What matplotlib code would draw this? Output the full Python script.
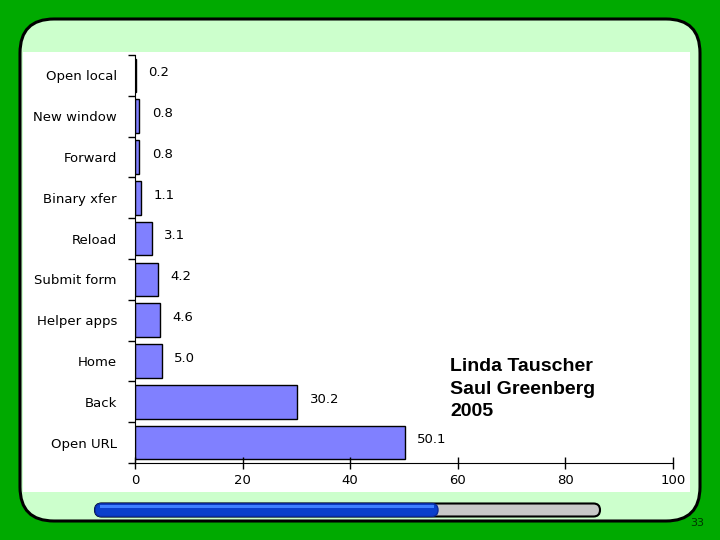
import matplotlib.pyplot as plt
from matplotlib.patches import FancyBboxPatch, Rectangle
import numpy as np

# data, top to bottom as in the slide
categories = ["Open local", "New window", "Forward", "Binary xfer", "Reload",
              "Submit form", "Helper apps", "Home", "Back", "Open URL"]
values = [0.2, 0.8, 0.8, 1.1, 3.1, 4.2, 4.6, 5.0, 30.2, 50.1]
x_ticks = [0, 20, 40, 60, 80, 100]
credit = "Linda Tauscher\nSaul Greenberg\n2005"
page = "33"


def main():
    fig = plt.figure(figsize=(7.2, 5.4), dpi=100)
    fig.patch.set_facecolor("#00AA00")

    # slide decoration in pixel coordinates
    bg = fig.add_axes([0, 0, 1, 1])
    bg.set_xlim(0, 720)
    bg.set_ylim(540, 0)
    bg.axis("off")
    bg.add_patch(FancyBboxPatch((20 + 32, 19 + 32), 680 - 64, 502 - 64,
                                boxstyle="round,pad=32,rounding_size=34",
                                facecolor="#CCFFCC", edgecolor="black", lw=2.2))
    bg.add_patch(Rectangle((23, 52), 667, 440, facecolor="white", edgecolor="none"))

    # progress bar
    bg.add_patch(FancyBboxPatch((95, 503.5), 505, 13,
                                boxstyle="round,pad=0,rounding_size=6.5",
                                facecolor="#C8C8C8", edgecolor="black", lw=1.5))
    bg.add_patch(FancyBboxPatch((95, 503.5), 343, 13,
                                boxstyle="round,pad=0,rounding_size=6.5",
                                facecolor="#0A3FCC", edgecolor="#0A2A99", lw=1))
    bg.add_patch(Rectangle((100, 505), 334, 2.5, facecolor="#3F7FFF", edgecolor="none"))
    bg.text(697, 523, page, fontsize=8, ha="center", va="center", color="#003300",
            family="DejaVu Sans")

    # bar chart
    ax = fig.add_axes([135 / 720, 1 - 463 / 540, 538 / 720, 408 / 540])
    ax.set_facecolor("none")
    y = np.arange(len(categories))
    ax.barh(y, values, height=0.82, color="#8080FF", edgecolor="black", lw=1)
    for yi, v in zip(y, values):
        ax.annotate("{:.1f}".format(v), (v, yi), xytext=(9, 2), textcoords="offset points",
                    ha="left", va="center", fontsize=9.5)

    ax.set_ylim(len(categories) - 0.5, -0.5)
    ax.set_xlim(0, 100)
    ax.set_yticks(y)
    ax.set_yticklabels(categories, fontsize=9.5)
    ax.set_yticks(np.arange(len(categories) + 1) - 0.5, minor=True)
    ax.tick_params(axis="y", which="major", length=0, pad=13)
    ax.tick_params(axis="y", which="minor", length=5, width=1, direction="out")
    ax.set_xticks(x_ticks)
    ax.tick_params(axis="x", which="major", length=8, width=1, direction="inout",
                   labelsize=9.5, pad=4)
    for s in ["top", "right"]:
        ax.spines[s].set_visible(False)

    fig.text(450 / 720, 1 - 389 / 540, credit, fontsize=14, fontweight="bold",
             family="Liberation Sans", ha="left", va="center", linespacing=1.45,
             transform=fig.transFigure)

    plt.savefig("out.png", facecolor=fig.get_facecolor())


if __name__ == '__main__':
    main()
